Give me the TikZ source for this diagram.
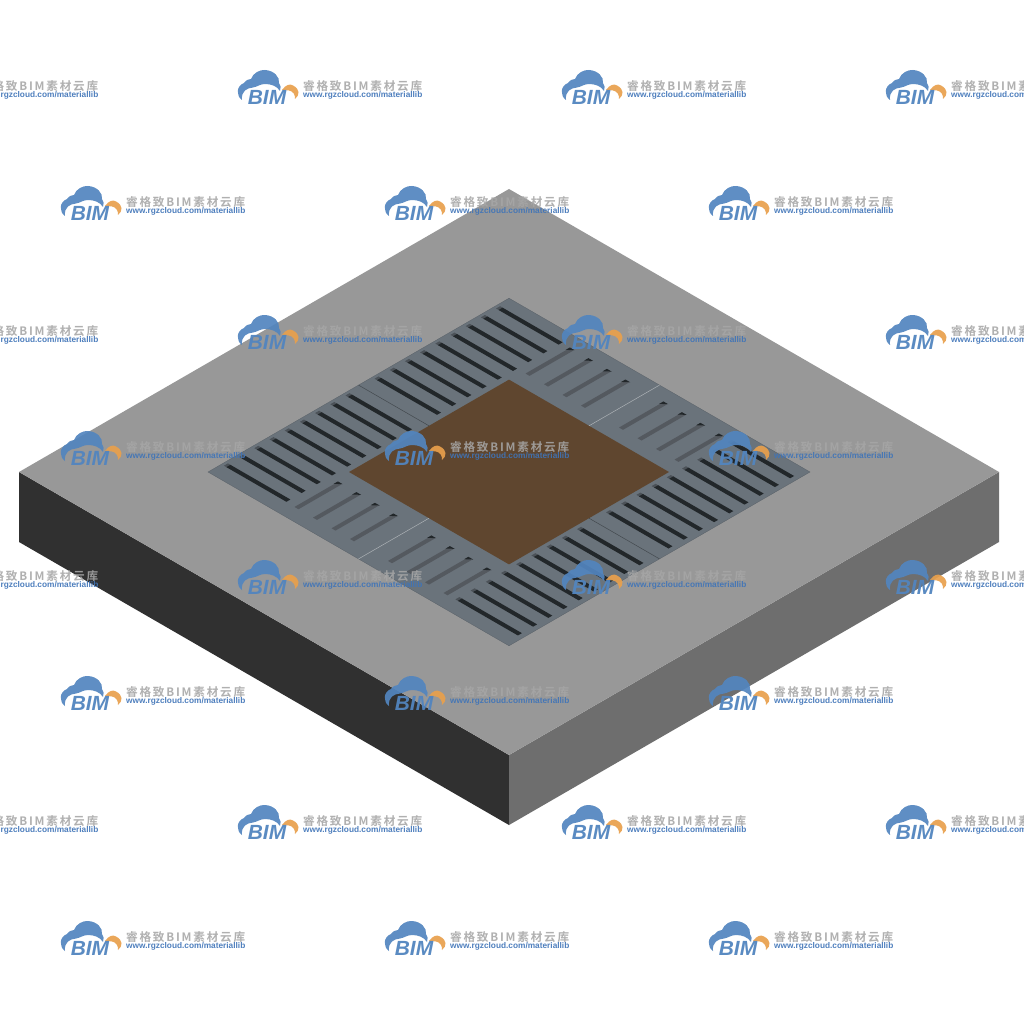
\documentclass[tikz,border=0pt]{standalone}
\usepackage{fontspec}
\newfontfamily\cnfont[LetterSpace=15.5,BoldFont={Noto Sans CJK SC Bold}]{Noto Sans CJK SC}
\newfontfamily\latinfont{Liberation Sans}
\definecolor{slabtop}{HTML}{989898}
\definecolor{slableft}{HTML}{303030}
\definecolor{slabright}{HTML}{6E6E6E}
\definecolor{grate}{HTML}{6A737B}
\definecolor{grateedge}{HTML}{596168}
\definecolor{soil}{HTML}{5F462F}
\definecolor{slotdark}{HTML}{22272A}
\definecolor{slotwall}{HTML}{4C5258}
\definecolor{slotlight}{HTML}{54595F}
\definecolor{logoblue}{HTML}{5285BF}
\definecolor{logoorange}{HTML}{E9A04C}
\definecolor{logogray}{HTML}{A6A6A6}
\definecolor{urlblue}{HTML}{3F74B8}
\tikzset{
  face/.style={draw=none},
  seamline/.style={draw=#1,line width=.5pt},
  wmblue/.style={fill=logoblue,draw=none,opacity=.92},
  wmorange/.style={fill=logoorange,draw=none,opacity=.92},
  wmtitle/.style={inner sep=0pt,anchor=west,text=logogray,opacity=.88,font=\cnfont\bfseries\fontsize{11.6}{12}\selectfont},
  wmurl/.style={inner sep=0pt,anchor=west,text=urlblue,opacity=.92,font=\latinfont\bfseries\fontsize{8.3}{8.3}\selectfont},
  wmbim/.style={inner sep=0pt,xscale=1.02,text=logoblue,opacity=.95,font=\latinfont\bfseries\itshape\fontsize{20.5}{20.5}\selectfont},
}
% one watermark; #1 = name, #2 = x, #3 = y
\newcommand{\wmark}[3]{%
  \begin{scope}[shift={(#2pt,-#3pt)}]
    \fill[wmblue] (4,13) .. controls (-2,9) and (-2,-1) .. (6,-4)
      .. controls (8,-7) and (11,-8) .. (13,-8)
      .. controls (15,-14) and (22,-17.5) .. (27,-17)
      .. controls (36,-16.5) and (42,-10) .. (41,-4)
      .. controls (43,-2) and (43,1) .. (42,4)
      .. controls (39,-1) and (33,-3) .. (27,-3)
      .. controls (22,-3) and (19,0) .. (15,.5)
      .. controls (9,1) and (3,4) .. (4,13) -- cycle;
    \fill[wmorange] (44,3) .. controls (48,-2.5) and (52,-3.5) .. (55,-1.5)
      .. controls (62,2) and (62,8) .. (57,12)
      .. controls (57.5,8) and (55,4) .. (51,3.5)
      .. controls (49,3) and (47,3) .. (44,3) -- cycle;
    \node[wmbim] (#1-b) at (29,10.5) {BIM};
    \node[wmtitle] (#1-t) at (65,-.8) {睿格致BIM素材云库};
    \node[wmurl] (#1-u) at (65,8.8) {www.rgzcloud.com/materiallib};
  \end{scope}}
% parallelogram in grate coordinates
\newcommand{\para}[4]{(#1,#2) -- (#3,#2) -- (#3,#4) -- (#1,#4) -- cycle}
\newcommand{\slotA}[2]{% dark slot running along a; #1=a offset, #2=b centre
  \pgfmathsetmacro{\pa}{#1-1.5}\pgfmathsetmacro{\pb}{#2-2}
  \pgfmathsetmacro{\pc}{#1+2}\pgfmathsetmacro{\pd}{#2+2}
  \pgfmathsetmacro{\pe}{#1+1}\pgfmathsetmacro{\pf}{#1+61}
  \fill[slotwall] \para{\pa}{\pb}{\pc}{\pd};
  \fill[slotdark] \para{\pe}{\pb}{\pf}{\pd};}
\newcommand{\slotB}[3]{% light slot running along b; #1=a centre, #2,#3=b range
  \pgfmathsetmacro{\pa}{#1-2}\pgfmathsetmacro{\pc}{#1+2}
  \pgfmathsetmacro{\pe}{#1-2.4}\pgfmathsetmacro{\pf}{#1+2.4}
  \pgfmathsetmacro{\pb}{#3-3.4}\pgfmathsetmacro{\pd}{#3+.8}
  \fill[slotlight] \para{\pa}{#2}{\pc}{#3};
  \fill[slotdark] (\pe,\pb) -- (\pe,\pd) -- (\pf,\pd) -- cycle;}
\begin{document}
\begin{tikzpicture}[x=1pt,y=-1pt]
\useasboundingbox (0,0) rectangle (1024,1024);
\clip (0,0) rectangle (1024,1024);
\fill[white] (0,0) rectangle (1024,1024);
% slab
\coordinate (tT) at (509,189);
\coordinate (tR) at (999,472);
\coordinate (tB) at (509,755);
\coordinate (tL) at (19,472);
\coordinate (bR) at (999,542);
\coordinate (bB) at (509,825);
\coordinate (bL) at (19,542);
\fill[slableft,face] (tL) -- (tB) -- (bB) -- (bL) -- cycle;
\fill[slabright,face] (tB) -- (tR) -- (bR) -- (bB) -- cycle;
\fill[slabtop,face] (tT) -- (tR) -- (tB) -- (tL) -- cycle;
% grate, in its own skew coordinates
\begin{scope}[shift={(208pt,-472pt)},x={(1pt,-.5774pt)},y={(1pt,.5774pt)}]
  \filldraw[fill=grate,draw=grateedge,line width=.3pt] \para{0}{0}{301}{301};
  \fill[soil] \para{70.5}{70.5}{230.5}{230.5};
  \draw[seamline=grateedge!75!black] (0,150.5) -- (70.5,150.5);
  \draw[seamline=grateedge!75!black] (230.5,150.5) -- (301,150.5);
  \draw[seamline=grate!55!white] (150.5,0) -- (150.5,70.5);
  \draw[seamline=grate!55!white] (150.5,230.5) -- (150.5,301);
  \foreach \c in {15.4,30.6,45.8,61,76.2,91.4,106.6,121.8,137,
                  166,181.2,196.4,211.6,226.8,242,257.2,272.4,287.6}{
    \slotA{4}{\c}
    \slotA{235.5}{\c}
  }
  \foreach \c in {75.5,94,112.5,131,169,187.5,206,224.5}{
    \slotB{\c}{13}{56}
    \slotB{\c}{244}{288}
  }
\end{scope}
% watermarks
\foreach \j/\y in {0/87,1/332,2/577,3/822}{
  \foreach \k/\x in {0/-86,1/238,2/562,3/886}{
    \wmark{a\j\k}{\x}{\y}
  }
}
\foreach \j/\y in {0/203,1/448,2/693,3/938}{
  \foreach \k/\x in {0/61,1/385,2/709}{
    \wmark{b\j\k}{\x}{\y}
  }
}
\end{tikzpicture}
\end{document}
